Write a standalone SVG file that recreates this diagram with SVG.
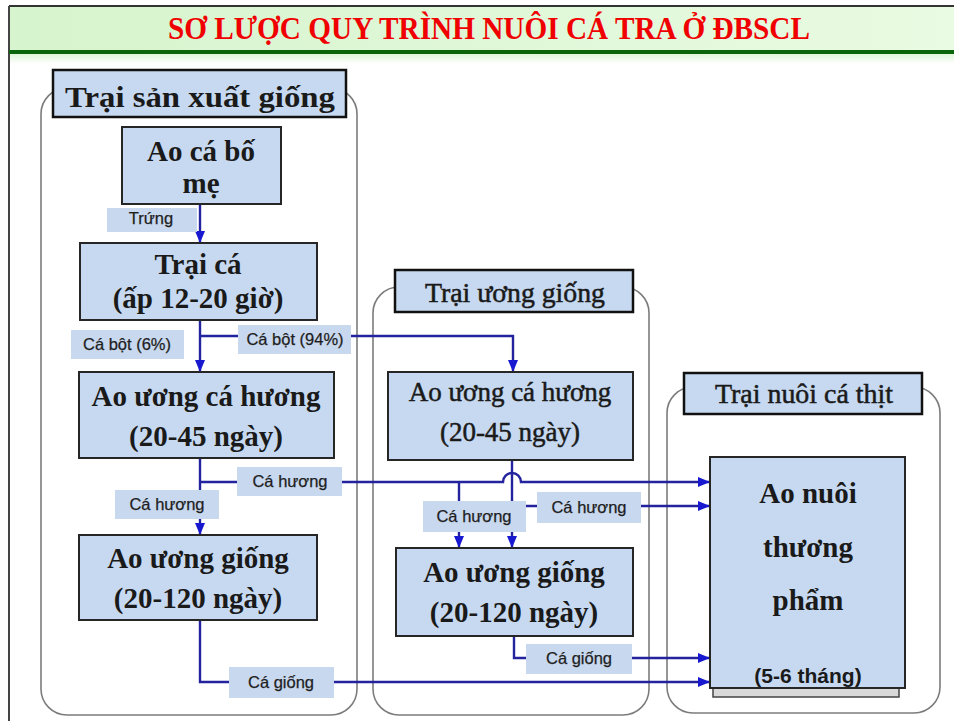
<svg xmlns="http://www.w3.org/2000/svg" width="954" height="721" viewBox="0 0 954 721">
<defs>
  <linearGradient id="hdr" x1="0" y1="0" x2="1" y2="0">
    <stop offset="0" stop-color="#d6f4cd"/>
    <stop offset="1" stop-color="#e9fbe2"/>
  </linearGradient>
  <linearGradient id="fade" x1="0" y1="0" x2="0" y2="1">
    <stop offset="0" stop-color="#dff7d8"/>
    <stop offset="1" stop-color="#ffffff"/>
  </linearGradient>
  <marker id="arr" viewBox="0 0 12 10" refX="11" refY="5" markerWidth="12" markerHeight="10" markerUnits="userSpaceOnUse" orient="auto">
    <path d="M0,0 L12,5 L0,10 Z" fill="#1818d0"/>
  </marker>
  <style>
    .panel{fill:#ffffff;stroke:#7c7c7c;stroke-width:1.6}
    .node{fill:#c6d9f1;stroke:#262626;stroke-width:2}
    .hdrbox{fill:#c6d9f1;stroke:#111;stroke-width:2.5}
    .lbl{fill:#c8d8ee}
    .nt{font-family:"Liberation Serif","Times New Roman",serif;font-weight:bold;font-size:29px;fill:#1a1a1a;text-anchor:middle}
    .nr{font-family:"Liberation Serif","Times New Roman",serif;font-weight:normal;font-size:27px;fill:#1a1a1a;stroke:#1a1a1a;stroke-width:0.5;text-anchor:middle}
    .lt{font-family:"Liberation Sans",Arial,sans-serif;font-size:16.5px;fill:#1e1e1e;stroke:#1e1e1e;stroke-width:0.25;text-anchor:middle}
    .con{fill:none;stroke:#23239e;stroke-width:2.4}
  </style>
</defs>

<rect x="0" y="0" width="954" height="721" fill="#ffffff"/>
<!-- header -->
<rect x="9" y="6" width="945" height="45" fill="url(#hdr)"/>
<rect x="9" y="54" width="945" height="10" fill="url(#fade)"/>
<line x1="9" y1="6" x2="954" y2="6" stroke="#333" stroke-width="2"/>
<line x1="9" y1="6" x2="9" y2="721" stroke="#444" stroke-width="2"/>
<rect x="9" y="50" width="945" height="4" fill="#0b650b"/>
<text x="489" y="39" font-family="'Liberation Serif','Times New Roman',serif" font-weight="bold" font-size="31" fill="#f00000" text-anchor="middle" textLength="642" lengthAdjust="spacingAndGlyphs">SƠ LƯỢC QUY TRÌNH NUÔI CÁ TRA Ở ĐBSCL</text>

<!-- panels -->
<g id="panel-sx">
  <rect class="panel" x="41" y="88" width="316" height="627" rx="26"/>
  <rect class="hdrbox" x="53" y="70" width="293" height="47"/>
  <text class="nt" x="200" y="107" font-size="35" textLength="270" lengthAdjust="spacingAndGlyphs">Trại sản xuất giống</text>
</g>
<g id="panel-uong">
  <rect class="panel" x="373" y="287" width="276" height="428" rx="26"/>
  <rect class="hdrbox" x="395" y="270" width="238" height="42"/>
  <text class="nr" x="515" y="302" textLength="180" lengthAdjust="spacingAndGlyphs">Trại ương giống</text>
</g>
<g id="panel-thit">
  <rect class="panel" x="667" y="387" width="273" height="326" rx="26"/>
  <rect class="hdrbox" x="684" y="373" width="238" height="41"/>
  <text class="nr" x="804" y="403" textLength="178" lengthAdjust="spacingAndGlyphs">Trại nuôi cá thịt</text>
</g>

<!-- connectors -->
<g id="connectors">
  <path class="con" d="M200,204 V242" marker-end="url(#arr)"/>
  <path class="con" d="M200,320 V371" marker-end="url(#arr)"/>
  <path class="con" d="M200,336 H513 V371" marker-end="url(#arr)"/>
  <path class="con" d="M200,458 V534" marker-end="url(#arr)"/>
  <path class="con" d="M200,482 H503 A9,9 0 0 1 521,482 H709" marker-end="url(#arr)"/>
  <path class="con" d="M459,482 V547" marker-end="url(#arr)"/>
  <path class="con" d="M512,460 V547" marker-end="url(#arr)"/>
  <path class="con" d="M512,506 H709" marker-end="url(#arr)"/>
  <path class="con" d="M514,636 V658 H709" marker-end="url(#arr)"/>
  <path class="con" d="M200,620 V682 H709" marker-end="url(#arr)"/>
</g>

<!-- connector labels -->
<g id="labels">
  <rect class="lbl" x="107" y="208" width="90" height="24"/>
  <text class="lt" x="151" y="224" font-size="12" stroke-width="0">Trứng</text>
  <rect class="lbl" x="71" y="330" width="113" height="29"/>
  <text class="lt" x="127" y="350">Cá bột (6%)</text>
  <rect class="lbl" x="238" y="325" width="113" height="29"/>
  <text class="lt" x="295" y="345">Cá bột (94%)</text>
  <rect class="lbl" x="237" y="467" width="105" height="29"/>
  <text class="lt" x="290" y="487">Cá hương</text>
  <rect class="lbl" x="115" y="490" width="104" height="29"/>
  <text class="lt" x="167" y="510">Cá hương</text>
  <rect class="lbl" x="423" y="501" width="103" height="31"/>
  <text class="lt" x="474" y="522">Cá hương</text>
  <rect class="lbl" x="537" y="492" width="104" height="31"/>
  <text class="lt" x="589" y="513">Cá hương</text>
  <rect class="lbl" x="229" y="667" width="105" height="31"/>
  <text class="lt" x="281" y="688">Cá giống</text>
  <rect class="lbl" x="526" y="644" width="106" height="30"/>
  <text class="lt" x="579" y="664">Cá giống</text>
</g>

<!-- nodes -->
<g id="ao-bo-me">
  <rect class="node" x="122" y="127" width="159" height="77"/>
  <text class="nt" x="201" y="161" font-size="28">Ao cá bố</text>
  <text class="nt" x="201" y="193" font-size="28">mẹ</text>
</g>
<g id="trai-ca">
  <rect class="node" x="80" y="243" width="237" height="77"/>
  <text class="nt" x="198" y="274">Trại cá</text>
  <text class="nt" x="198" y="308">(ấp 12-20 giờ)</text>
</g>
<g id="ao-uong-ca-huong-1">
  <rect class="node" x="79" y="372" width="255" height="86"/>
  <text class="nt" x="206" y="406">Ao ương cá hương</text>
  <text class="nt" x="206" y="446">(20-45 ngày)</text>
</g>
<g id="ao-uong-giong-1">
  <rect class="node" x="79" y="535" width="238" height="85"/>
  <text class="nt" x="198" y="568">Ao ương giống</text>
  <text class="nt" x="198" y="608">(20-120 ngày)</text>
</g>
<g id="ao-uong-ca-huong-2">
  <rect class="node" x="388" y="372" width="245" height="88"/>
  <text class="nr" x="510" y="401">Ao ương cá hương</text>
  <text class="nr" x="510" y="441">(20-45 ngày)</text>
</g>
<g id="ao-uong-giong-2">
  <rect class="node" x="396" y="548" width="237" height="88"/>
  <text class="nt" x="514" y="582">Ao ương giống</text>
  <text class="nt" x="514" y="622">(20-120 ngày)</text>
</g>
<g id="ao-nuoi">
  <rect x="713" y="462" width="186" height="235" fill="#d9d9d9" stroke="#444" stroke-width="1.5"/>
  <rect class="node" x="710" y="457" width="195" height="231"/>
  <text class="nt" x="808" y="503">Ao nuôi</text>
  <text class="nt" x="808" y="557">thương</text>
  <text class="nt" x="808" y="610">phẩm</text>
  <text x="808" y="683" font-family="'Liberation Sans',Arial,sans-serif" font-weight="bold" font-size="21" fill="#1a1a1a" text-anchor="middle">(5-6 tháng)</text>
</g>
</svg>
